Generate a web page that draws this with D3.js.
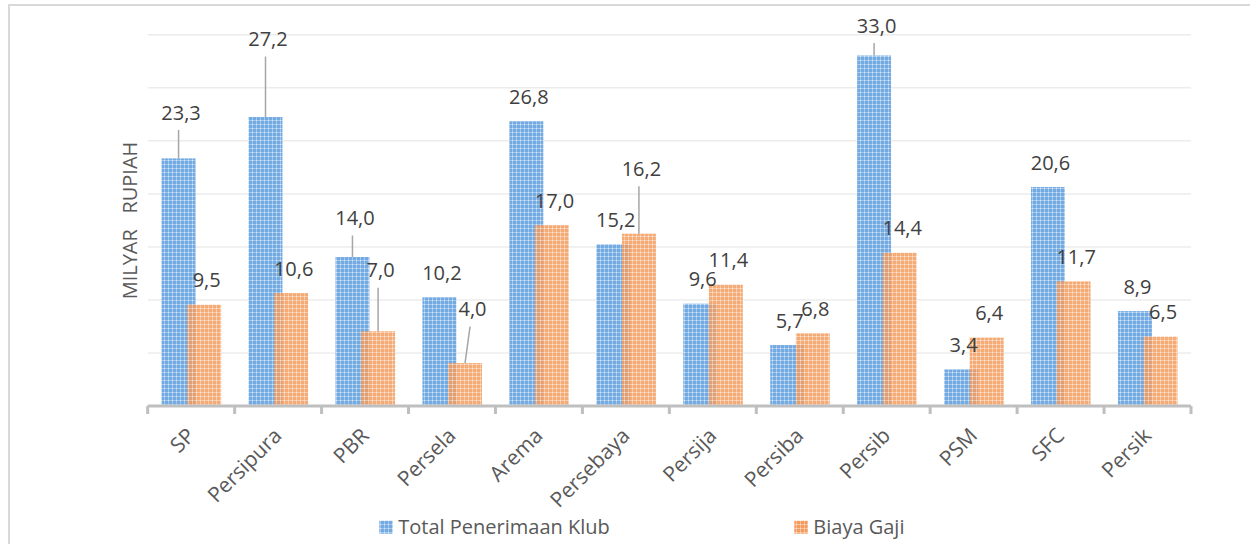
<!DOCTYPE html>
<meta charset="utf-8">
<style>
 body { margin: 0; background: #fff; }
 svg { display: block; font-family: "Open Sans", sans-serif; }
 .grid line { stroke: #ececec; stroke-width: 1.5px; }
 .grid .domain { display: none; }
 .xaxis .domain { display: none; }
 .xaxis text { fill: #595959; font-size: 21px; font-family: "Open Sans", sans-serif; }
 .vlabel { fill: #404040; font-size: 20px; }
 .leader { stroke: #a6a6a6; stroke-width: 1.5px; }
 .legend text { fill: #595959; font-size: 20px; }
</style>

<svg class="chart"></svg>

<script src="https://cdn.jsdelivr.net/npm/d3@7"></script>

<script>

 // data
 var categories = ["SP", "Persipura", "PBR", "Persela", "Arema", "Persebaya",
                   "Persija", "Persiba", "Persib", "PSM", "SFC", "Persik"];
 var totalPenerimaan = [23.3, 27.2, 14.0, 10.2, 26.8, 15.2, 9.6, 5.7, 33.0, 3.4, 20.6, 8.9];
 var biayaGaji = [9.5, 10.6, 7.0, 4.0, 17.0, 16.2, 11.4, 6.8, 14.4, 6.4, 11.7, 6.5];
 var seriesNames = ["Total Penerimaan Klub", "Biaya Gaji"];
 var gridTicks = [0, 5, 10, 15, 20, 25, 30, 35];
 var yTitle = "MILYAR   RUPIAH";

 // labels that were dragged up in the original, with a leader line (series-index: lift px)
 var labelLift = { "0-0": 46, "0-1": 78, "0-2": 39, "0-8": 30,
                   "1-2": 61, "1-3": 54, "1-5": 65 };
 var labelShift = { "1-3": 5 };

 var W = 1250, H = 544;
 var svg = d3.select(".chart").attr("width", W).attr("height", H);

 var defs = svg.append("defs");
 function pattern(id, base, line, dot) {
     var p = defs.append("pattern").attr("id", id).attr("width", 4).attr("height", 4)
                 .attr("patternUnits", "userSpaceOnUse");
     p.append("rect").attr("width", 4).attr("height", 4).attr("fill", base);
     p.append("rect").attr("width", 4).attr("height", 1).attr("fill", line);
     p.append("rect").attr("width", 1).attr("height", 4).attr("fill", line);
     p.append("rect").attr("width", 1).attr("height", 1).attr("fill", dot);
 }
 pattern("pBlue", "#74aae2", "#a3c7ec", "#dce9f7");
 pattern("pOrange", "#f39c5e", "#f8c09a", "#fce0cc");
 var fills = ["url(#pBlue)", "url(#pOrange)"];

 // outer frame
 svg.append("path").attr("d", "M9," + H + "V5H" + W)
    .attr("fill", "none").attr("stroke", "#d9d9d9").attr("stroke-width", 2);

 var x = d3.scaleBand().domain(categories).range([147.7, 1191]).padding(0);
 var y = d3.scaleLinear().domain([0, 35]).range([405.5, 34.3]);
 var bw = x.bandwidth();
 var barW = bw * 0.39;
 var offs = [bw * 0.16, bw * 0.455];

 svg.append("g").attr("class", "grid").attr("transform", "translate(147.7,0)")
    .call(d3.axisLeft(y).tickValues(gridTicks).tickSize(-(1191 - 147.7)).tickFormat(""));

 var series = [totalPenerimaan, biayaGaji];

 series.forEach(function(vals, s) {
     svg.append("g").selectAll("rect").data(vals).enter().append("rect")
        .attr("x", function(d, i) { return x(categories[i]) + offs[s]; })
        .attr("y", function(d) { return y(d); })
        .attr("width", barW)
        .attr("height", function(d) { return y(0) - y(d); })
        .attr("fill", fills[s])
        .attr("opacity", s == 1 ? 0.85 : 1);
 });

 // axis line and category ticks
 var gx = svg.append("g").attr("class", "xaxis").attr("transform", "translate(0,406)")
             .call(d3.axisBottom(x).tickSize(0));
 gx.selectAll(".tick text")
   .attr("y", 0).attr("dy", 0)
   .attr("text-anchor", "end")
   .attr("transform", "translate(5,31) rotate(-45)");
 gx.append("line").attr("x1", 147.7).attr("x2", 1191).attr("stroke", "#bfbfbf").attr("stroke-width", 3);
 gx.selectAll(".bound").data(categories.concat(["_end"])).enter().append("line")
   .attr("class", "bound")
   .attr("x1", function(d) { return d == "_end" ? 1191 : x(d); })
   .attr("x2", function(d) { return d == "_end" ? 1191 : x(d); })
   .attr("y1", 0).attr("y2", 8)
   .attr("stroke", "#bfbfbf").attr("stroke-width", 3);

 // value labels
 var fmt = function(v) { return d3.format(".1f")(v).replace(".", ","); };
 series.forEach(function(vals, s) {
     var g = svg.append("g");
     vals.forEach(function(v, i) {
         var key = s + "-" + i;
         var cx = x(categories[i]) + offs[s] + barW / 2;
         var top = y(v);
         var lift = labelLift[key] || 24.5;
         var lx = cx + 2.5 + (labelShift[key] || 0);
         var ly = top - lift;
         if (labelLift[key]) {
             g.append("line").attr("class", "leader")
              .attr("x1", lx - 2.5).attr("y1", ly + 17.5)
              .attr("x2", cx).attr("y2", top);
         }
         g.append("text").attr("class", "vlabel")
          .attr("x", lx).attr("y", ly).attr("dy", "0.36em")
          .attr("text-anchor", "middle")
          .text(fmt(v));
     });
 });

 // y title
 svg.append("text")
    .attr("transform", "translate(129.5,220.5) rotate(-90)")
    .attr("text-anchor", "middle").attr("dy", "0.36em")
    .style("white-space", "pre")
    .attr("fill", "#595959").attr("font-size", 20)
    .text(yTitle);

 // legend
 var legendX = [379.3, 794.3];
 var lg = svg.append("g").attr("class", "legend");
 seriesNames.forEach(function(name, s) {
     lg.append("rect").attr("x", legendX[s]).attr("y", 520.7).attr("width", 13.4).attr("height", 13)
       .attr("fill", fills[s]);
     lg.append("text").attr("x", legendX[s] + 19).attr("y", 534).text(name);
 });

</script>
